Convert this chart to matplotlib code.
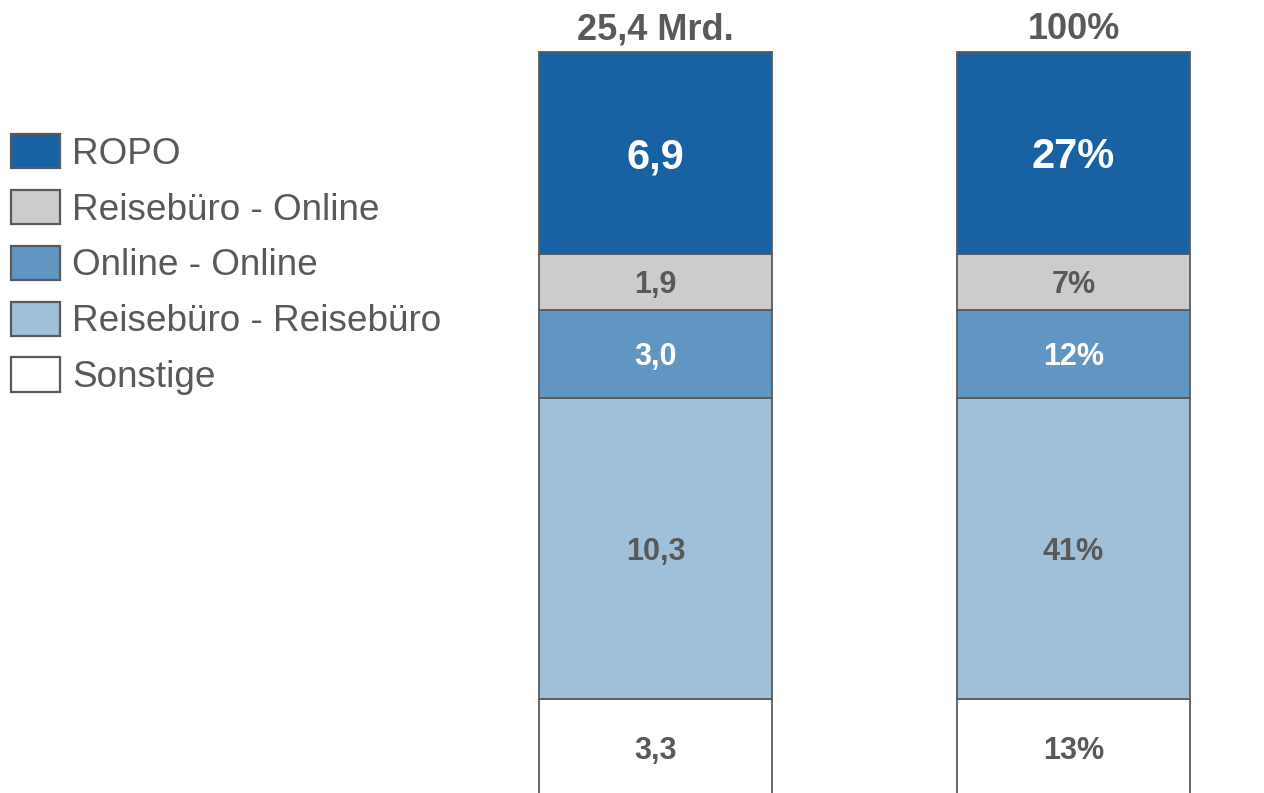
import matplotlib
matplotlib.use("Agg")
import matplotlib.pyplot as plt
import numpy as np

plt.rcParams['font.family'] = ['Liberation Sans', 'DejaVu Sans']

# Segments, bottom to top
segments = ['Sonstige', 'Reisebüro - Reisebüro', 'Online - Online',
            'Reisebüro - Online', 'ROPO']
values = [3.3, 10.3, 3.0, 1.9, 6.9]          # Mrd.
shares = [13, 41, 12, 7, 27]                 # %
colors = ['#FFFFFF', '#A0BFD9', '#6296C2', '#CCCCCC', '#1862A4']
text_colors = ['#595959', '#595959', '#FFFFFF', '#595959', '#FFFFFF']
bar_titles = ['25,4 Mrd.', '100%']

W, H = 1264, 793
fig = plt.figure(figsize=(W / 100, H / 100), dpi=100)

# axes placed so the bars land where they do in the reference
px_per_unit = 29.3
x0, step = 655.5, 418.0
left_px = x0 - 0.5 * step
ax = fig.add_axes([left_px / W, -3 / H, (W - left_px) / W, 796 / H])
ax.set_xlim(-0.5, (W - x0) / step)
ax.set_ylim(0, 796 / px_per_unit)
ax.axis('off')

edge = '#5A5A5A'
width = 233 / step
bottom = 0.0
handles = []
for i, seg in enumerate(segments):
    bars = ax.bar([0, 1], [values[i]] * 2, bottom=bottom, width=width,
                  color=colors[i], edgecolor=edge, linewidth=1.3, label=seg)
    handles.append(bars)
    big = seg == 'ROPO'
    size = 30 if big else 22
    labels = [f'{values[i]:.1f}'.replace('.', ','), f'{shares[i]}%']
    for x, lab in zip([0, 1], labels):
        ax.text(x, bottom + values[i] / 2, lab, ha='center',
                va='center_baseline', fontsize=size, fontweight='bold',
                color=text_colors[i])
    bottom += values[i]

total = sum(values)
for x, t in zip([0, 1], bar_titles):
    ax.annotate(t, (x, total), xytext=(0, 16), textcoords='offset points',
                ha='center', va='center', fontsize=26, fontweight='bold',
                color='#595959')

# legend, top entry first
leg = fig.legend(handles[::-1], segments[::-1], loc='upper left',
                 bbox_to_anchor=(11 / W, 1 - 134 / H), frameon=False,
                 fontsize=26.6, handlelength=1.33, handleheight=1.05,
                 handletextpad=0.33, labelspacing=0.49, borderpad=0,
                 borderaxespad=0)
for txt in leg.get_texts():
    txt.set_color('#595959')
for p in leg.get_patches():
    p.set_linewidth(1.6)

fig.savefig('out.png', dpi=100)
